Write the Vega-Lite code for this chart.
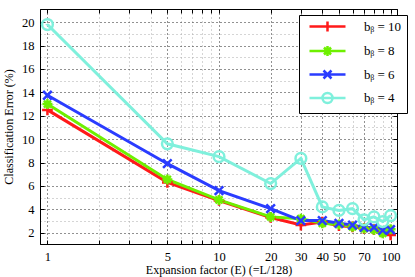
{
  "$schema": "https://vega.github.io/schema/vega-lite/v6.json",
  "width": 357,
  "height": 235,
  "autosize": "none",
  "padding": {"left": 40, "top": 9, "right": 18, "bottom": 33},
  "background": "white",
  "config": {
    "font": "Liberation Serif",
    "view": {"stroke": "black", "strokeWidth": 1},
    "axis": {
      "labelFont": "Liberation Serif",
      "labelFontSize": 12.5,
      "labelColor": "black",
      "titleFont": "Liberation Serif",
      "titleFontSize": 12,
      "titleFontWeight": "normal",
      "titleColor": "black",
      "domainColor": "black",
      "tickColor": "black",
      "tickWidth": 1
    },
    "legend": {
      "orient": "none",
      "legendX": 259,
      "legendY": 6,
      "strokeColor": "black",
      "fillColor": "white",
      "padding": 5,
      "labelFont": "Liberation Serif",
      "labelFontSize": 13,
      "labelColor": "black",
      "symbolSize": 100,
      "symbolOpacity": 1,
      "symbolStrokeWidth": 2.5,
      "symbolOffset": 17,
      "labelOffset": 30,
      "rowPadding": 3.5
    }
  },
  "data": {
    "values": [
      {"E": 1, "series": "bᵦ = 10", "err": 12.5},
      {"E": 5, "series": "bᵦ = 10", "err": 6.3},
      {"E": 10, "series": "bᵦ = 10", "err": 4.75},
      {"E": 20, "series": "bᵦ = 10", "err": 3.3},
      {"E": 30, "series": "bᵦ = 10", "err": 2.65},
      {"E": 40, "series": "bᵦ = 10", "err": 2.9},
      {"E": 50, "series": "bᵦ = 10", "err": 2.6},
      {"E": 60, "series": "bᵦ = 10", "err": 2.5},
      {"E": 70, "series": "bᵦ = 10", "err": 2.35},
      {"E": 80, "series": "bᵦ = 10", "err": 2.25},
      {"E": 90, "series": "bᵦ = 10", "err": 2.05},
      {"E": 100, "series": "bᵦ = 10", "err": 1.8},
      {"E": 1, "series": "bᵦ = 8", "err": 13.0},
      {"E": 5, "series": "bᵦ = 8", "err": 6.55},
      {"E": 10, "series": "bᵦ = 8", "err": 4.8},
      {"E": 20, "series": "bᵦ = 8", "err": 3.35},
      {"E": 30, "series": "bᵦ = 8", "err": 3.2},
      {"E": 40, "series": "bᵦ = 8", "err": 2.8},
      {"E": 50, "series": "bᵦ = 8", "err": 2.7},
      {"E": 60, "series": "bᵦ = 8", "err": 2.5},
      {"E": 70, "series": "bᵦ = 8", "err": 2.35},
      {"E": 80, "series": "bᵦ = 8", "err": 2.25},
      {"E": 90, "series": "bᵦ = 8", "err": 1.95},
      {"E": 100, "series": "bᵦ = 8", "err": 2.3},
      {"E": 1, "series": "bᵦ = 6", "err": 13.75},
      {"E": 5, "series": "bᵦ = 6", "err": 7.9},
      {"E": 10, "series": "bᵦ = 6", "err": 5.6},
      {"E": 20, "series": "bᵦ = 6", "err": 4.05},
      {"E": 30, "series": "bᵦ = 6", "err": 3.03},
      {"E": 40, "series": "bᵦ = 6", "err": 3.03},
      {"E": 50, "series": "bᵦ = 6", "err": 2.8},
      {"E": 60, "series": "bᵦ = 6", "err": 2.65},
      {"E": 70, "series": "bᵦ = 6", "err": 2.45},
      {"E": 80, "series": "bᵦ = 6", "err": 2.45},
      {"E": 90, "series": "bᵦ = 6", "err": 2.2},
      {"E": 100, "series": "bᵦ = 6", "err": 2.25},
      {"E": 1, "series": "bᵦ = 4", "err": 19.8},
      {"E": 5, "series": "bᵦ = 4", "err": 9.6},
      {"E": 10, "series": "bᵦ = 4", "err": 8.5},
      {"E": 20, "series": "bᵦ = 4", "err": 6.2},
      {"E": 30, "series": "bᵦ = 4", "err": 8.35},
      {"E": 40, "series": "bᵦ = 4", "err": 4.2},
      {"E": 50, "series": "bᵦ = 4", "err": 3.9},
      {"E": 60, "series": "bᵦ = 4", "err": 4.05},
      {"E": 70, "series": "bᵦ = 4", "err": 3.1},
      {"E": 80, "series": "bᵦ = 4", "err": 3.35},
      {"E": 90, "series": "bᵦ = 4", "err": 2.95},
      {"E": 100, "series": "bᵦ = 4", "err": 3.45}
    ]
  },
  "layer": [
    {
      "mark": {"type": "point", "filled": false, "strokeWidth": 1, "size": 1, "opacity": 1},
      "encoding": {
        "x": {"field": "E", "type": "quantitative", "scale": {"type": "log", "domain": [0.905, 109], "nice": false}, "axis": null},
        "y": {"field": "err", "type": "quantitative", "scale": {"domain": [1.03, 21.13], "nice": false, "zero": false}, "axis": null},
        "color": {
          "field": "series", "type": "nominal",
          "scale": {"domain": ["bᵦ = 10", "bᵦ = 8", "bᵦ = 6", "bᵦ = 4"], "range": ["#ff1a1a", "#6ef000", "#2a3cff", "#7ff0dc"]},
          "legend": {"title": null, "symbolSize": 100, "symbolStrokeWidth": 2.5, "symbolOpacity": 1}
        },
        "shape": {
          "field": "series", "type": "nominal",
          "scale": {
            "domain": ["bᵦ = 10", "bᵦ = 8", "bᵦ = 6", "bᵦ = 4"],
            "range": [
              "M-3.6,0L3.6,0M0,-1L0,1",
              "M-3.6,0L3.6,0M0,-1L0,1M-0.7,-0.7L0.7,0.7M-0.7,0.7L0.7,-0.7",
              "M-3.6,0L3.6,0M-0.8,-0.8L0.8,0.8M-0.8,0.8L0.8,-0.8",
              "M-3.6,0L3.6,0M1,0A1,1,0,1,1,-1,0A1,1,0,1,1,1,0"
            ]
          },
          "legend": {"title": null, "symbolSize": 100, "symbolStrokeWidth": 2.5, "symbolOpacity": 1}
        }
      }
    },
    {
      "mark": {"type": "line", "strokeWidth": 3},
      "encoding": {
        "x": {
          "field": "E", "type": "quantitative",
          "scale": {"type": "log", "domain": [0.905, 109], "nice": false},
          "axis": {
            "orient": "bottom",
            "title": "Expansion factor (E) (=L/128)",
            "values": [1, 2, 3, 4, 5, 6, 7, 8, 9, 10, 20, 30, 40, 50, 60, 70, 80, 90, 100],
            "format": "d",
            "labelExpr": "indexof([1,5,10,20,30,40,50,70,100], datum.value) >= 0 ? datum.label : ''",
            "labelFlush": false,
            "labelOverlap": false,
            "tickSize": -4,
            "labelPadding": 10,
            "titlePadding": 2,
            "grid": true,
            "gridDash": [1, 3],
            "gridColor": {"condition": {"test": "indexof([1,5,10,20,30,40,50,70,100], datum.value) >= 0", "value": "#222222"}, "value": "#aaaaaa"}
          }
        },
        "y": {
          "field": "err", "type": "quantitative",
          "scale": {"domain": [1.03, 21.13], "nice": false, "zero": false},
          "axis": {
            "orient": "left",
            "title": "Classification Error (%)",
            "values": [2, 3, 4, 5, 6, 7, 8, 9, 10, 11, 12, 13, 14, 15, 16, 17, 18, 19, 20],
            "labelExpr": "datum.value % 2 === 0 ? datum.label : ''",
            "labelOverlap": false,
            "labelFlush": false,
            "tickSize": -4,
            "tickOpacity": {"condition": {"test": "datum.value % 2 === 0", "value": 1}, "value": 0},
            "labelPadding": 10,
            "titlePadding": 6,
            "grid": true,
            "gridDash": [1, 3],
            "gridColor": {"condition": {"test": "datum.value % 2 === 0", "value": "#222222"}, "value": "#aaaaaa"}
          }
        },
        "stroke": {
          "field": "series", "type": "nominal",
          "scale": {"domain": ["bᵦ = 10", "bᵦ = 8", "bᵦ = 6", "bᵦ = 4"], "range": ["#ff1a1a", "#6ef000", "#2a3cff", "#7ff0dc"]},
          "legend": null
        }
      }
    },
    {
      "transform": [{"filter": "datum.series === 'bᵦ = 10'"}],
      "mark": {"type": "point", "filled": false, "strokeWidth": 2.5, "size": 115, "opacity": 1, "shape": "M-1,0L1,0M0,-1L0,1", "stroke": "#ff1a1a"},
      "encoding": {
        "x": {
          "field": "E", "type": "quantitative",
          "scale": {"type": "log", "domain": [0.905, 109], "nice": false},
          "axis": {
            "orient": "top", "title": null, "labels": false, "grid": false,
            "values": [1, 2, 3, 4, 5, 6, 7, 8, 9, 10, 20, 30, 40, 50, 60, 70, 80, 90, 100],
            "tickSize": -4
          }
        },
        "y": {
          "field": "err", "type": "quantitative",
          "scale": {"domain": [1.03, 21.13], "nice": false, "zero": false},
          "axis": {
            "orient": "right", "title": null, "labels": false, "grid": false,
            "values": [2, 4, 6, 8, 10, 12, 14, 16, 18, 20],
            "tickSize": -4
          }
        }
      }
    },
    {
      "transform": [{"filter": "datum.series === 'bᵦ = 8'"}],
      "mark": {"type": "point", "filled": false, "strokeWidth": 2.5, "size": 100, "opacity": 1, "shape": "M-1,0L1,0M0,-1L0,1M-0.7,-0.7L0.7,0.7M-0.7,0.7L0.7,-0.7", "stroke": "#6ef000"},
      "encoding": {
        "x": {"field": "E", "type": "quantitative", "scale": {"type": "log", "domain": [0.905, 109], "nice": false}, "axis": null},
        "y": {"field": "err", "type": "quantitative", "scale": {"domain": [1.03, 21.13], "nice": false, "zero": false}, "axis": null}
      }
    },
    {
      "transform": [{"filter": "datum.series === 'bᵦ = 6'"}],
      "mark": {"type": "point", "filled": false, "strokeWidth": 2.5, "size": 115, "opacity": 1, "shape": "M-0.8,-0.8L0.8,0.8M-0.8,0.8L0.8,-0.8", "stroke": "#2a3cff"},
      "encoding": {
        "x": {"field": "E", "type": "quantitative", "scale": {"type": "log", "domain": [0.905, 109], "nice": false}, "axis": null},
        "y": {"field": "err", "type": "quantitative", "scale": {"domain": [1.03, 21.13], "nice": false, "zero": false}, "axis": null}
      }
    },
    {
      "transform": [{"filter": "datum.series === 'bᵦ = 4'"}],
      "mark": {"type": "point", "filled": false, "strokeWidth": 2.5, "size": 115, "opacity": 1, "shape": "M1,0A1,1,0,1,1,-1,0A1,1,0,1,1,1,0", "stroke": "#7ff0dc"},
      "encoding": {
        "x": {"field": "E", "type": "quantitative", "scale": {"type": "log", "domain": [0.905, 109], "nice": false}, "axis": null},
        "y": {"field": "err", "type": "quantitative", "scale": {"domain": [1.03, 21.13], "nice": false, "zero": false}, "axis": null}
      }
    }
  ],
  "resolve": {"axis": {"x": "independent", "y": "independent"}}
}
